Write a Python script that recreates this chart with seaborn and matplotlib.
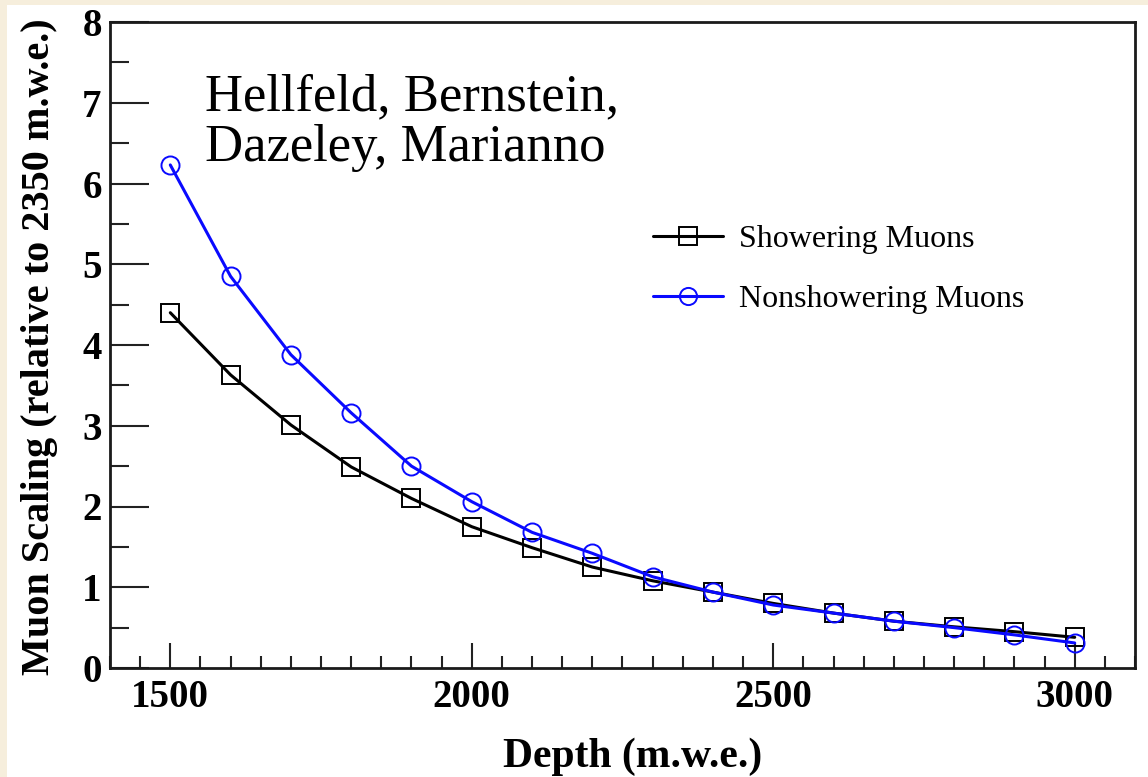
import matplotlib
matplotlib.use("Agg")
import matplotlib.pyplot as plt
import seaborn as sns
import pandas as pd
from matplotlib.patches import Rectangle
from matplotlib.ticker import MultipleLocator

depth = [1500, 1600, 1700, 1800, 1900, 2000, 2100, 2200, 2300, 2400, 2500, 2600, 2700, 2800, 2900, 3000]
showering = [4.40, 3.63, 3.01, 2.49, 2.10, 1.75, 1.49, 1.25, 1.08, 0.94, 0.80, 0.68, 0.58, 0.51, 0.45, 0.38]
nonshowering = [6.23, 4.85, 3.88, 3.16, 2.50, 2.06, 1.68, 1.42, 1.13, 0.94, 0.78, 0.68, 0.58, 0.50, 0.41, 0.31]
series_names = ["Showering Muons", "Nonshowering Muons"]

df = pd.concat([
    pd.DataFrame({"Depth": depth, "Scaling": showering, "Series": series_names[0]}),
    pd.DataFrame({"Depth": depth, "Scaling": nonshowering, "Series": series_names[1]}),
])

sns.set_theme(style="ticks")
plt.rcParams['font.family'] = ['Liberation Serif', 'DejaVu Serif']
plt.rcParams['text.color'] = 'black'
plt.rcParams['axes.labelcolor'] = 'black'
plt.rcParams['xtick.color'] = 'black'
plt.rcParams['ytick.color'] = 'black'

W, H = 1148, 777
fig = plt.figure(figsize=(W / 100, H / 100), dpi=100, facecolor='#f6eedc')
fig.patches.append(Rectangle((7 / W, 0), 1 - 7 / W, 1 - 5 / H, transform=fig.transFigure,
                             facecolor='white', edgecolor='none', zorder=-10))
ax = fig.add_axes([110 / W, 1 - 668 / H, (1135 - 110) / W, (668 - 22) / H])
ax.set_facecolor('white')

palette = {series_names[0]: 'black', series_names[1]: '#0a0aff'}
markers = {series_names[0]: 's', series_names[1]: 'o'}
sns.lineplot(data=df, x="Depth", y="Scaling", hue="Series", style="Series",
             palette=palette, markers=markers, dashes=False, ax=ax,
             linewidth=2.2, markersize=13, markerfacecolor='none',
             markeredgewidth=1.4, legend=False)
for line, name in zip(ax.lines, series_names):
    line.set_markeredgecolor(palette[name])
    line.set_label(name)

ax.set_xlim(1400, 3100)
ax.set_ylim(0, 8)
ax.xaxis.set_major_locator(MultipleLocator(500))
ax.xaxis.set_minor_locator(MultipleLocator(50))
ax.yaxis.set_major_locator(MultipleLocator(1))
ax.yaxis.set_minor_locator(MultipleLocator(0.5))
ax.tick_params(axis='x', which='major', direction='in', length=18, width=1.5, pad=8, labelsize=28,
               color='#222222', labelcolor='black')
ax.tick_params(axis='x', which='minor', direction='in', length=9, width=1.5, color='#222222')
ax.tick_params(axis='y', which='major', direction='in', length=28, width=1.5, pad=6, labelsize=28,
               color='#222222', labelcolor='black')
ax.tick_params(axis='y', which='minor', direction='in', length=14, width=1.5, color='#222222')
for lab in ax.get_xticklabels() + ax.get_yticklabels():
    lab.set_fontweight('bold')
for sp in ax.spines.values():
    sp.set_linewidth(2)
    sp.set_color('#1a1a1a')

ax.set_xlabel("Depth (m.w.e.)", fontsize=30, fontweight='bold', color='black')
ax.xaxis.set_label_coords(0.5 + 10 / 1025, (668 - 757) / 646)
ax.xaxis.label.set_va('center')
ax.set_ylabel("Muon Scaling (relative to 2350 m.w.e.)", fontsize=29, fontweight='bold', color='black')
ax.yaxis.set_label_coords((40 - 110) / 1025, (668 - 347) / 646)
ax.yaxis.label.set_va('center')

ax.text((205 - 110) / 1025, (668 - 73) / 646, "Hellfeld, Bernstein,\nDazeley, Marianno",
        transform=ax.transAxes, fontsize=38, va='top', ha='left', linespacing=1.08, color='black')

handles = [ax.lines[0], ax.lines[1]]
leg = ax.legend(handles, series_names, loc='upper left',
                bbox_to_anchor=((640 - 110) / 1025, (668 - 212) / 646),
                frameon=False, fontsize=23, handlelength=2.2, labelspacing=0.95,
                handletextpad=0.5, markerscale=0.95, borderaxespad=0)
for t in leg.get_texts():
    t.set_color('black')

fig.savefig("out.png", dpi=100, facecolor=fig.get_facecolor())
